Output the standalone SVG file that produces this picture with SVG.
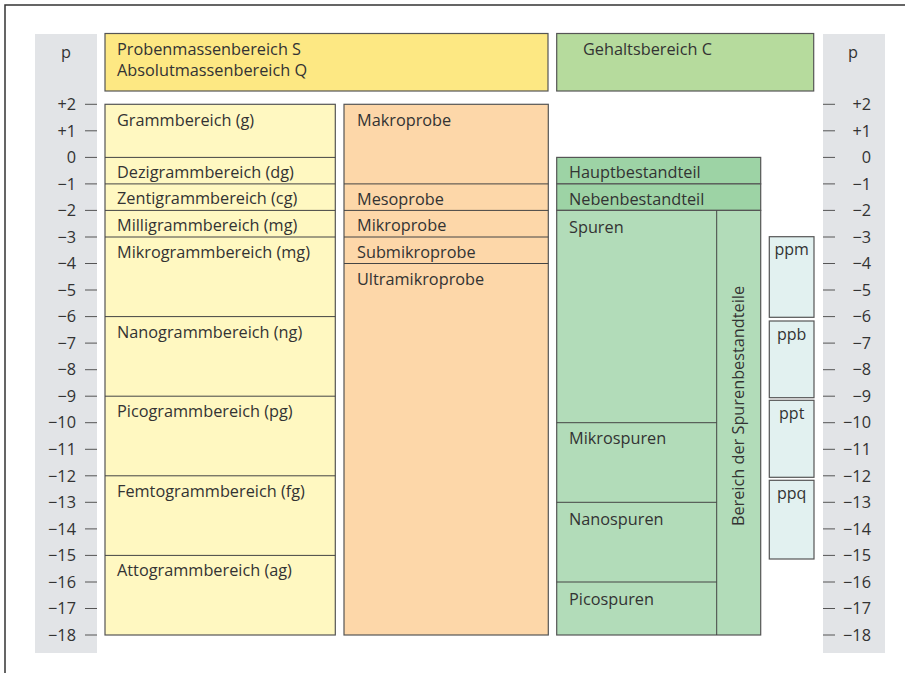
<svg xmlns="http://www.w3.org/2000/svg" width="905" height="673" viewBox="0 0 905 673">
<style>
text{font-family:"Open Sans","Noto Sans","Liberation Sans",sans-serif;fill:#333;font-size:16.3px}
.box{stroke:#555;stroke-width:1.2}
.div{stroke:#444;stroke-width:1}
.tick{stroke:#555;stroke-width:1}
.sl{text-anchor:end;font-size:16px}
.pp{font-size:16px;text-anchor:middle}
</style>
<rect x="0" y="0" width="905" height="673" fill="#fff"/>
<path d="M5,673 V5 H905" fill="none" stroke="#333" stroke-width="1.5"/>
<g id="scale-left">
<rect x="35" y="34" width="62" height="619" fill="#e2e4e7"/>
<text x="66" y="58" font-size="18" text-anchor="middle">p</text>
</g>
<g id="scale-right">
<rect x="823" y="34" width="62" height="619" fill="#e2e4e7"/>
<text x="853" y="58" font-size="18" text-anchor="middle">p</text>
</g>
<g id="ticks">
<g class="tick">
<path d="M85,104.3h12M85,130.8h12M85,157.4h12M85,183.9h12M85,210.4h12M85,237h12M85,263.5h12M85,290h12M85,316.6h12M85,343.1h12M85,369.7h12M85,396.2h12M85,422.7h12M85,449.3h12M85,475.8h12M85,502.3h12M85,528.9h12M85,555.4h12M85,582h12M85,608.5h12M85,635h12"/>
<path d="M823,104.3h12M823,130.8h12M823,157.4h12M823,183.9h12M823,210.4h12M823,237h12M823,263.5h12M823,290h12M823,316.6h12M823,343.1h12M823,369.7h12M823,396.2h12M823,422.7h12M823,449.3h12M823,475.8h12M823,502.3h12M823,528.9h12M823,555.4h12M823,582h12M823,608.5h12M823,635h12"/>
</g>
<g class="sl">
<text x="76" y="110">+2</text><text x="76" y="136.5">+1</text><text x="76" y="163.1">0</text><text x="76" y="189.6">−1</text><text x="76" y="216.1">−2</text><text x="76" y="242.7">−3</text><text x="76" y="269.2">−4</text><text x="76" y="295.7">−5</text><text x="76" y="322.3">−6</text><text x="76" y="348.8">−7</text><text x="76" y="375.4">−8</text><text x="76" y="401.9">−9</text><text x="76" y="428.4">−10</text><text x="76" y="455">−11</text><text x="76" y="481.5">−12</text><text x="76" y="508">−13</text><text x="76" y="534.6">−14</text><text x="76" y="561.1">−15</text><text x="76" y="587.7">−16</text><text x="76" y="614.2">−17</text><text x="76" y="640.7">−18</text>
<text x="871" y="110">+2</text><text x="871" y="136.5">+1</text><text x="871" y="163.1">0</text><text x="871" y="189.6">−1</text><text x="871" y="216.1">−2</text><text x="871" y="242.7">−3</text><text x="871" y="269.2">−4</text><text x="871" y="295.7">−5</text><text x="871" y="322.3">−6</text><text x="871" y="348.8">−7</text><text x="871" y="375.4">−8</text><text x="871" y="401.9">−9</text><text x="871" y="428.4">−10</text><text x="871" y="455">−11</text><text x="871" y="481.5">−12</text><text x="871" y="508">−13</text><text x="871" y="534.6">−14</text><text x="871" y="561.1">−15</text><text x="871" y="587.7">−16</text><text x="871" y="614.2">−17</text><text x="871" y="640.7">−18</text>
</g>
</g>
<g id="header-mass">
<rect class="box" x="105" y="33.5" width="443" height="57.5" fill="#fde883"/>
<text x="117" y="55">Probenmassenbereich S</text>
<text x="117" y="75.5">Absolutmassenbereich Q</text>
</g>
<g id="header-content">
<rect class="box" x="556.7" y="33.5" width="257" height="57.5" fill="#b6db9d"/>
<text x="583" y="55">Gehaltsbereich C</text>
</g>
<g id="mass-ranges">
<rect class="box" x="105" y="104.3" width="230.3" height="530.7" fill="#fff8c1"/>
<path class="div" d="M105,157.4H335.3M105,183.9H335.3M105,210.4H335.3M105,237H335.3M105,316.6H335.3M105,396.2H335.3M105,475.8H335.3M105,555.4H335.3"/>
<text x="117" y="125.5">Grammbereich (g)</text>
<text x="117" y="177.5">Dezigrammbereich (dg)</text>
<text x="117" y="204">Zentigrammbereich (cg)</text>
<text x="117" y="230.5">Milligrammbereich (mg)</text>
<text x="117" y="258">Mikrogrammbereich (mg)</text>
<text x="117" y="337.5">Nanogrammbereich (ng)</text>
<text x="117" y="417">Picogrammbereich (pg)</text>
<text x="117" y="496.5">Femtogrammbereich (fg)</text>
<text x="117" y="576">Attogrammbereich (ag)</text>
</g>
<g id="samples">
<rect class="box" x="344" y="104.3" width="204.3" height="530.7" fill="#fdd7a9"/>
<path class="div" d="M344,183.9H548.3M344,210.4H548.3M344,237H548.3M344,263.5H548.3"/>
<text x="357" y="125.5">Makroprobe</text>
<text x="357" y="204.5">Mesoprobe</text>
<text x="357" y="231">Mikroprobe</text>
<text x="357" y="257.5">Submikroprobe</text>
<text x="357" y="285">Ultramikroprobe</text>
</g>
<g id="content-ranges">
<rect class="box" x="556.7" y="157.4" width="204" height="26.5" fill="#9dd3a5"/>
<rect class="box" x="556.7" y="183.9" width="204" height="26.5" fill="#9dd3a5"/>
<rect class="box" x="556.7" y="210.4" width="204" height="424.6" fill="#b2dcb9"/>
<path class="div" d="M716.7,210.4V635M556.7,422.7H716.7M556.7,502.3H716.7M556.7,582H716.7"/>
<text x="569" y="178">Hauptbestandteil</text>
<text x="569" y="204.5">Nebenbestandteil</text>
<text x="569" y="232.5">Spuren</text>
<text x="569" y="443.5">Mikrospuren</text>
<text x="569" y="524.5">Nanospuren</text>
<text x="569" y="604.5">Picospuren</text>
<text transform="translate(744,406) rotate(-90)" text-anchor="middle">Bereich der Spurenbestandteile</text>
</g>
<g id="ppm">
<rect class="box" x="769.3" y="236.7" width="44.7" height="80.6" fill="#e2f1f0"/>
<text class="pp" x="791.7" y="254.5">ppm</text>
</g>
<g id="ppb">
<rect class="box" x="769.3" y="321" width="44.7" height="76.7" fill="#e2f1f0"/>
<text class="pp" x="791.7" y="339.5">ppb</text>
</g>
<g id="ppt">
<rect class="box" x="769.3" y="400.3" width="44.7" height="77" fill="#e2f1f0"/>
<text class="pp" x="791.7" y="419">ppt</text>
</g>
<g id="ppq">
<rect class="box" x="769.3" y="480.3" width="44.7" height="78.7" fill="#e2f1f0"/>
<text class="pp" x="791.7" y="499">ppq</text>
</g>
</svg>
